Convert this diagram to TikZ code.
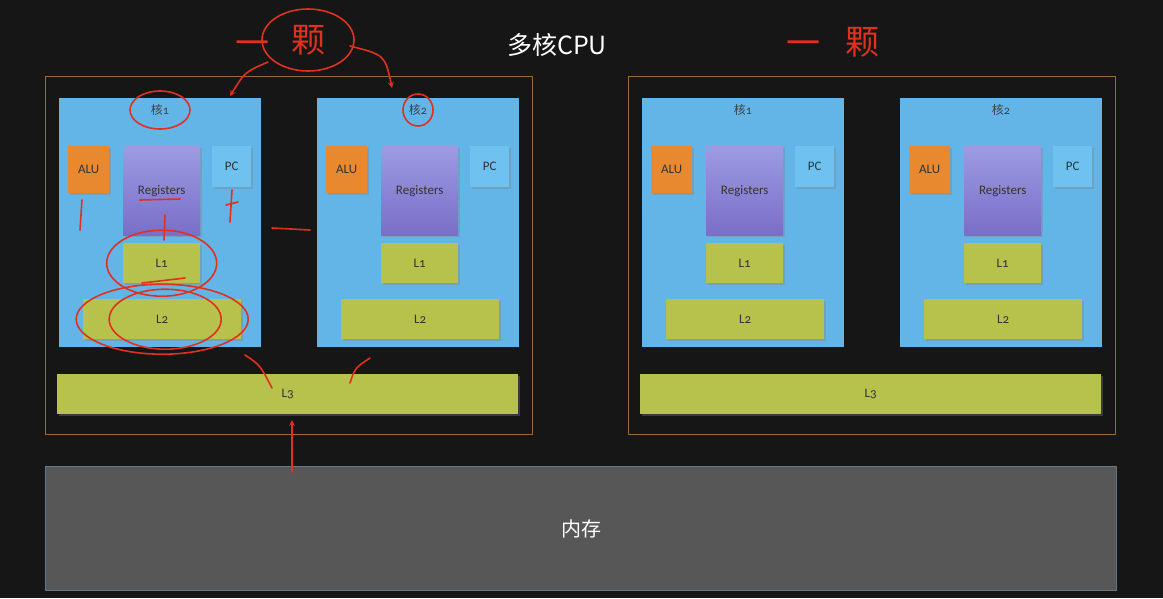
\documentclass[tikz,border=0pt]{standalone}
\usepackage{fontspec}
\setmainfont{Carlito}[Numbers=OldStyle]
\newfontfamily\cjk{Noto Sans CJK SC}
\usetikzlibrary{arrows.meta,shadows}

\definecolor{board}{HTML}{161616}
\definecolor{framecol}{HTML}{9A6A36}
\definecolor{corecol}{HTML}{63B5E8}
\definecolor{alucol}{HTML}{E8892F}
\definecolor{pccol}{HTML}{6FC2F0}
\definecolor{regtop}{HTML}{9C9BE2}
\definecolor{regbot}{HTML}{7A6EC8}
\definecolor{cachecol}{HTML}{B6C24B}
\definecolor{memcol}{HTML}{575757}
\definecolor{memline}{HTML}{627888}
\definecolor{inkred}{HTML}{E2301F}

\tikzset{
  cpuframe/.style={draw=framecol, line width=0.8pt, anchor=north west, inner sep=0pt},
  corebox/.style={fill=corecol, anchor=north west, inner sep=0pt},
  unitbox/.style={anchor=north west, inner sep=0pt, text=black!80,
    drop shadow={shadow xshift=1.5pt, shadow yshift=-1.5pt, opacity=0.35}},
  alubox/.style={unitbox, fill=alucol},
  pcbox/.style={unitbox, fill=pccol},
  regbox/.style={unitbox, top color=regtop, bottom color=regbot},
  cachebox/.style={unitbox, fill=cachecol},
  redmark/.style={draw=inkred, line width=1.6pt},
  redtext/.style={text=inkred, font=\cjk\fontsize{34}{36}\selectfont},
}

\begin{document}
\begin{tikzpicture}[x=1pt, y=-1pt, font=\fontsize{13}{15}\selectfont, line join=round, line cap=round, >=stealth]
	\def\W{1163} \def\H{598}
	\fill[board] (0,0) rectangle (\W,\H);
	\useasboundingbox (0,0) rectangle (\W,\H);
	\node[text=white, font=\cjk\fontsize{25}{30}\selectfont] (title) at (557,45) {多核CPU};
	% two CPUs, each with two cores and a shared L3
	\foreach \cpu/\cx in {a/45, b/628} {
		\node[cpuframe, minimum width=487, minimum height=358] (cpu-\cpu) at (\cx,76) {};
		\node[cachebox, minimum width=461, minimum height=40] (l3-\cpu) at (\cx+12,374) {L3};
		\foreach \k/\kx in {1/14, 2/272} {
			\pgfmathsetmacro\x{\cx+\kx}
			\node[corebox, minimum width=202, minimum height=249] (core-\cpu\k) at (\x,98) {};
			\node[font=\fontsize{12}{14}\selectfont, text=black!75] (name-\cpu\k) at (\x+101,110) {{\cjk 核}\k};
			\node[alubox, minimum width=41, minimum height=47] (alu-\cpu\k) at (\x+9,146) {ALU};
			\node[regbox, minimum width=77, minimum height=89] (reg-\cpu\k) at (\x+64,146) {Registers};
			\node[pcbox, minimum width=39, minimum height=41] (pc-\cpu\k) at (\x+153,146) {PC};
			\node[cachebox, minimum width=77, minimum height=40] (l1-\cpu\k) at (\x+64,243) {L1};
			\node[cachebox, minimum width=158, minimum height=40] (l2-\cpu\k) at (\x+24,299) {L2};
		}
	}
	\node[fill=memcol, draw=memline, line width=1pt, anchor=north west, inner sep=0pt,
		minimum width=1071, minimum height=124] (mem) at (45,466) {};
	\node[text=white, font=\cjk\fontsize{20}{24}\selectfont] (memtext) at (mem.center) {内存};
	% red handwriting
	\node[redtext] (one-a) at (252,48) {一};
	\node[redtext] (grain-a) at (308,40) {颗};
	\node[redtext] (one-b) at (803,48) {一};
	\node[redtext] (grain-b) at (862,42) {颗};
	\draw[redmark] (grain-a) ellipse [x radius=46, y radius=31];
	\draw[redmark, ->] (268,62) .. controls (245,72) .. (230,96);
	\draw[redmark, ->] (350,46) .. controls (385,55) .. (392,88);
	\draw[redmark] (name-a1) ellipse [x radius=30, y radius=19];
	\draw[redmark] (name-a2) ellipse [x radius=15, y radius=16];
	\draw[redmark] (140,200) -- (180,199);
	\draw[redmark] (82,200) -- (80,230);
	\draw[redmark] (232,190) -- (230,222);
	\draw[redmark] (226,205) -- (238,202);
	\draw[redmark] (l1-a1) ellipse [x radius=55, y radius=33];
	\draw[redmark] (l2-a1) ellipse [x radius=86, y radius=35];
	\draw[redmark] ([xshift=3pt]l2-a1.center) ellipse [x radius=56, y radius=30];
	\draw[redmark] (165,215) -- (164,240);
	\draw[redmark] (142,283) -- (185,278);
	\draw[redmark] (272,228) -- (310,230);
	\draw[redmark] (245,355) .. controls (260,365) .. (272,388);
	\draw[redmark] (370,358) .. controls (355,368) .. (350,383);
	\draw[redmark, ->] (292,472) -- (292,420);
\end{tikzpicture}
\end{document}
